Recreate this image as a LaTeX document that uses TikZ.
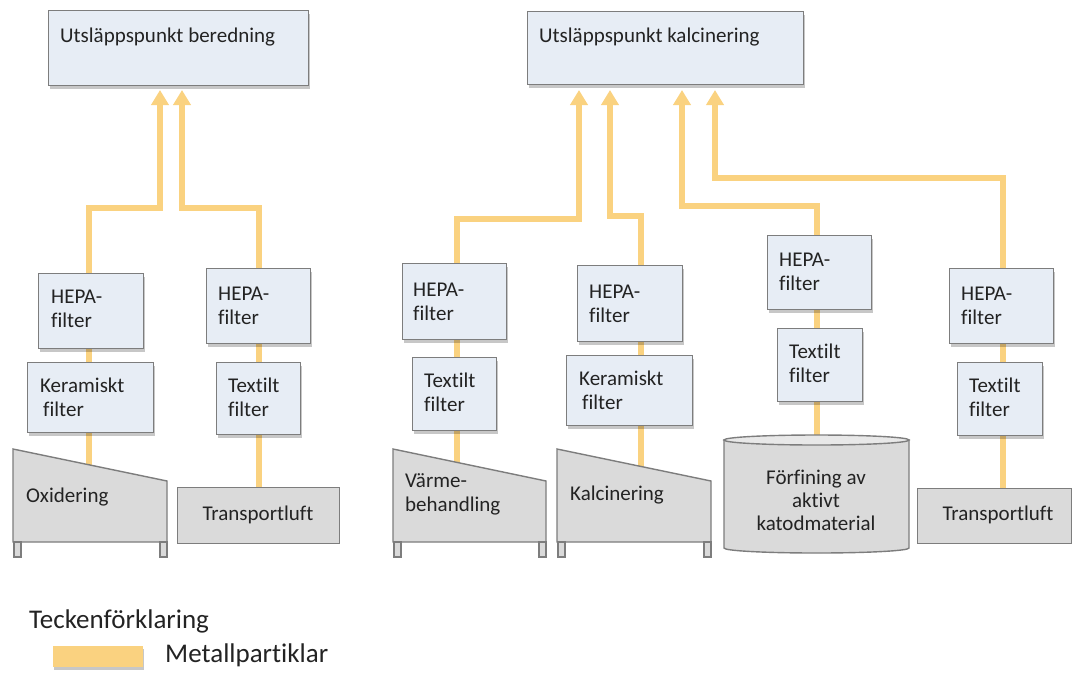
\documentclass[tikz,border=0pt]{standalone}
\usepackage{fontspec}
\setmainfont{Carlito}[Ligatures=NoCommon]
\usetikzlibrary{arrows.meta,shadows}
\definecolor{boxfill}{RGB}{231,237,245}
\definecolor{edge}{RGB}{125,125,125}
\definecolor{machfill}{RGB}{218,218,218}
\definecolor{machtop}{RGB}{232,232,232}
\definecolor{flowcol}{RGB}{250,210,128}
\definecolor{ink}{RGB}{35,35,35}
\pgfdeclarelayer{bg}
\pgfsetlayers{bg,main}
% left-aligned / centred line stacks whose baseline is the first line
\newcommand\stackl[1]{\begin{tabular}[t]{@{}l@{}}#1\end{tabular}}
\newcommand\stackc[1]{\begin{tabular}[t]{@{}c@{}}#1\end{tabular}}

\begin{document}
\begin{tikzpicture}[x=1pt,y=-1pt,
  shade/.style={drop shadow={shadow xshift=1pt,shadow yshift=-3pt,opacity=0.22,fill=black}},
  fbox/.style={draw=edge,line width=1.4pt,fill=boxfill,anchor=north west,inner sep=0pt,shade},
  gbox/.style={draw=edge,line width=1.4pt,fill=machfill,anchor=north west,inner sep=0pt},
  lbl/.style={anchor=base west,inner sep=0pt,text=ink,font=\fontsize{21}{24}\selectfont},
  clbl/.style={anchor=base,inner sep=0pt,text=ink,font=\fontsize{21}{23}\selectfont},
  leglbl/.style={lbl,font=\fontsize{27}{30}\selectfont},
  mach/.style={draw=edge,line width=1.4pt,fill=machfill},
  flow/.style={draw=flowcol,line width=6pt},
  flowin/.style={flow,-{Triangle[width=17pt,length=15pt]}}]
\useasboundingbox (0,0) rectangle (1073,673);

% ---------- emission points ----------
\node[fbox,minimum width=260,minimum height=75] (outB) at (48,10) {};
\node[lbl] (outBt) at (60,42) {Utsläppspunkt beredning};
\node[fbox,minimum width=276,minimum height=73] (outK) at (527,11) {};
\node[lbl] (outKt) at (539,42) {Utsläppspunkt kalcinering};

% arrow entry points under the emission boxes
\coordinate (tipL1) at (160,90);
\coordinate (tipL2) at (182,90);
\coordinate (tipA) at (579,90);
\coordinate (tipB) at (610,90);
\coordinate (tipC) at (682,90);
\coordinate (tipD) at (715,90);

% ---------- filter boxes ----------
\node[fbox,minimum width=105,minimum height=75] (hepaL1) at (38,273) {};
\node[lbl] at (51,303) {\stackl{HEPA-\\filter}};
\node[fbox,minimum width=126,minimum height=70] (kerL) at (27,362) {};
\node[lbl] at (40,392) {\stackl{Keramiskt\\\hspace{3pt}filter}};

\node[fbox,minimum width=104,minimum height=75] (hepaL2) at (206,268) {};
\node[lbl] at (218,300) {\stackl{HEPA-\\filter}};
\node[fbox,minimum width=84,minimum height=72] (texL) at (216,362) {};
\node[lbl] at (228,392) {\stackl{Textilt\\filter}};

\node[fbox,minimum width=104,minimum height=76] (hepaA) at (402,263) {};
\node[lbl] at (413,296) {\stackl{HEPA-\\filter}};
\node[fbox,minimum width=84,minimum height=73] (texA) at (412,357) {};
\node[lbl] at (424,387) {\stackl{Textilt\\filter}};

\node[fbox,minimum width=105,minimum height=76] (hepaB) at (577,265) {};
\node[lbl] at (589,298) {\stackl{HEPA-\\filter}};
\node[fbox,minimum width=126,minimum height=70] (kerB) at (566,355) {};
\node[lbl] at (579,385) {\stackl{Keramiskt\\\hspace{3pt}filter}};

\node[fbox,minimum width=104,minimum height=74] (hepaC) at (767,235) {};
\node[lbl] at (779,266) {\stackl{HEPA-\\filter}};
\node[fbox,minimum width=85,minimum height=73] (texC) at (777,328) {};
\node[lbl] at (789,358) {\stackl{Textilt\\filter}};

\node[fbox,minimum width=104,minimum height=75] (hepaD) at (949,268) {};
\node[lbl] at (961,300) {\stackl{HEPA-\\filter}};
\node[fbox,minimum width=85,minimum height=73] (texD) at (957,362) {};
\node[lbl] at (969,392) {\stackl{Textilt\\filter}};

% ---------- process equipment ----------
% oxidation furnace
\draw[mach] (13,449) -- (167,481) -- (167,542) -- (13,542) -- cycle;
\draw[mach] (14,542) rectangle (21,557);
\draw[mach] (160,542) rectangle (167,557);
\coordinate (oxIn) at (89,470);
\node[lbl] (oxT) at (26,502) {Oxidering};

% transport air (left)
\node[gbox,minimum width=162,minimum height=56] (trL) at (177,487) {};
\node[clbl] at (258,520) {Transportluft};

% heat treatment furnace
\draw[mach] (393,449) -- (546,481) -- (546,542) -- (393,542) -- cycle;
\draw[mach] (394,542) rectangle (401,557);
\draw[mach] (539,542) rectangle (546,557);
\coordinate (vbIn) at (457,475);
\node[lbl] (vbT) at (405,487) {\stackl{Värme-\\behandling}};

% calcination furnace
\draw[mach] (557,449) -- (711,481) -- (711,542) -- (557,542) -- cycle;
\draw[mach] (558,542) rectangle (565,557);
\draw[mach] (704,542) rectangle (711,557);
\coordinate (kalIn) at (641,475);
\node[lbl] (kalT) at (570,500) {Kalcinering};

% refining vessel
\path[mach] (724,440) -- (724,548) arc[start angle=180,end angle=0,x radius=92.5,y radius=5] -- (909,440) -- cycle;
\draw[mach,fill=machtop] (816.5,440) ellipse[x radius=92.5,y radius=5];
\node[minimum width=185,minimum height=118,inner sep=0pt] (cyl) at (816.5,494) {};
\node[clbl] at (816,484) {\stackc{Förfining av\\aktivt\\katodmaterial}};

% transport air (right)
\node[gbox,minimum width=154,minimum height=55] (trD) at (917,488) {};
\node[clbl] at (998,520) {Transportluft};
\coordinate (dIn) at (1003,490);

% ---------- legend ----------
\node[leglbl] (legT) at (29,628) {Teckenförklaring};
\node[fill=flowcol,minimum width=90,minimum height=21,anchor=north west,inner sep=0pt,shade] (legS) at (53,646) {};
\node[leglbl] (legM) at (165,662) {Metallpartiklar};

% ---------- particle flows ----------
\begin{pgfonlayer}{bg}
  % beredning
  \draw[flow] (oxIn) -- (kerL.south -| oxIn);
  \draw[flow] (kerL.north -| oxIn) -- (hepaL1.south -| oxIn);
  \draw[flowin] (hepaL1.north -| oxIn) -- ++(0,-65) -| (tipL1);
  \draw[flow] (trL.north) -- (texL.south -| trL.north);
  \draw[flow] (texL.north -| trL.north) -- (hepaL2.south -| trL.north);
  \draw[flowin] (hepaL2.north -| trL.north) -- ++(0,-60) -| (tipL2);
  % kalcinering
  \draw[flow] (vbIn) -- (texA.south -| vbIn);
  \draw[flow] (texA.north -| vbIn) -- (hepaA.south -| vbIn);
  \draw[flowin] (hepaA.north -| vbIn) -- ++(0,-44) -| (tipA);
  \draw[flow] (kalIn) -- (kerB.south -| kalIn);
  \draw[flow] (kerB.north -| kalIn) -- (hepaB.south -| kalIn);
  \draw[flowin] (hepaB.north -| kalIn) -- ++(0,-49) -| (tipB);
  \draw[flow] ([yshift=-5pt]cyl.north) -- (texC.south -| cyl.north);
  \draw[flow] (texC.north -| cyl.north) -- (hepaC.south -| cyl.north);
  \draw[flowin] (hepaC.north -| cyl.north) -- ++(0,-29) -| (tipC);
  \draw[flow] (dIn) -- (texD.south -| dIn);
  \draw[flow] (texD.north -| dIn) -- (hepaD.south -| dIn);
  \draw[flowin] (hepaD.north -| dIn) -- ++(0,-90) -| (tipD);
\end{pgfonlayer}
\end{tikzpicture}
\end{document}
